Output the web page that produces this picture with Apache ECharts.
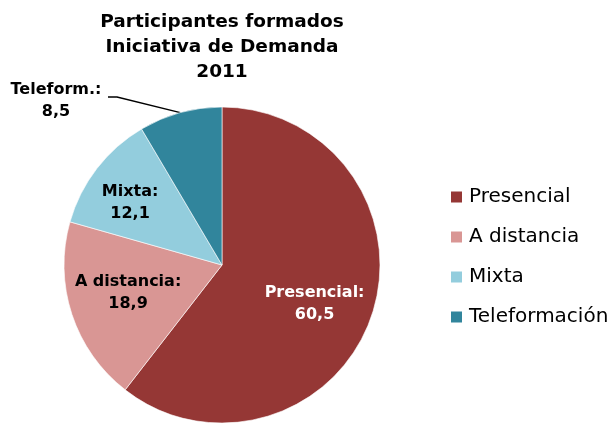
<!DOCTYPE html>
<html>
<head>
<meta charset="utf-8">
<script src="https://cdn.jsdelivr.net/npm/echarts@6/dist/echarts.min.js"></script>
<style>
  html, body { margin: 0; padding: 0; background: #fff; }
  #chart { width: 616px; height: 423px; }
</style>
</head>
<body>
<div id="chart"></div>
<script>
// datos
const categories = ['Presencial', 'A distancia', 'Mixta', 'Teleformación']
const labelNames = ['Presencial', 'A distancia', 'Mixta', 'Teleform.']
const values = [60.5, 18.9, 12.1, 8.5]
const colors = ['#953735', '#D99694', '#93CDDD', '#31859C']
const labelColors = ['#ffffff', '#000000', '#000000', '#000000']

// desplazamiento de etiquetas interiores
const labelShift = [
  { dx: 15, dy: 12 },
  { dx: -16, dy: 2 },
  { dx: -27, dy: -12 }
]
// etiqueta exterior (Teleform.) y su línea guía
const outerLabel = { x: 11, y: 101, width: 90 }

const chart = echarts.init(document.getElementById('chart'))

const fmt = v => String(v).replace('.', ',')

chart.setOption({
  backgroundColor: '#fff',
  animation: false,
  color: colors,
  title: {
    text: 'Participantes formados\nIniciativa de Demanda\n2011',
    left: 217,
    textAlign: 'center',
    top: 5,
    textStyle: {
      fontFamily: 'DejaVu Sans',
      fontWeight: 'bold',
      fontSize: 18.5,
      lineHeight: 25,
      color: '#000'
    }
  },
  legend: {
    orient: 'vertical',
    left: 449,
    top: 187,
    padding: 0,
    itemWidth: 13,
    itemHeight: 13,
    itemGap: 20,
    icon: 'rect',
    textStyle: {
      fontFamily: 'DejaVu Sans',
      fontSize: 20,
      color: '#000',
      padding: [0, 0, 0, 1]
    },
    data: categories
  },
  series: [
    {
      type: 'pie',
      center: [222, 265],
      radius: 158,
      startAngle: 90,
      clockwise: true,
      avoidLabelOverlap: false,
      itemStyle: { borderColor: '#fff', borderWidth: 0.6 },
      emphasis: { disabled: true },
      data: categories.map((name, i) => ({
        name: name,
        value: values[i],
        label: i === 3 ? {
          position: 'outside',
          color: labelColors[i],
          formatter: '{t|' + labelNames[i] + ':}\n{t|' + fmt(values[i]) + '}',
          rich: { t: { width: outerLabel.width, align: 'center' } }
        } : {
          position: 'inside',
          color: labelColors[i],
          formatter: labelNames[i] + ':\n' + fmt(values[i])
        },
        labelLine: {
          show: i === 3,
          smooth: false,
          length: 12,
          length2: 10,
          lineStyle: { color: '#000', width: 1.4 }
        }
      })),
      label: {
        fontFamily: 'DejaVu Sans',
        fontWeight: 'bold',
        fontSize: 16,
        lineHeight: 22,
        align: 'center'
      },
      labelLayout: params => {
        if (params.dataIndex === 3) {
          const start = params.labelLinePoints ? params.labelLinePoints[0] : null
          const right = outerLabel.x + outerLabel.width
          const res = {
            x: outerLabel.x,
            y: outerLabel.y,
            align: 'left',
            verticalAlign: 'middle'
          }
          if (start) {
            res.labelLinePoints = [start, [right + 16, outerLabel.y - 4], [right + 7, outerLabel.y - 4]]
          }
          return res
        }
        const s = labelShift[params.dataIndex]
        return { dx: s.dx, dy: s.dy }
      }
    }
  ]
})
</script>
</body>
</html>
